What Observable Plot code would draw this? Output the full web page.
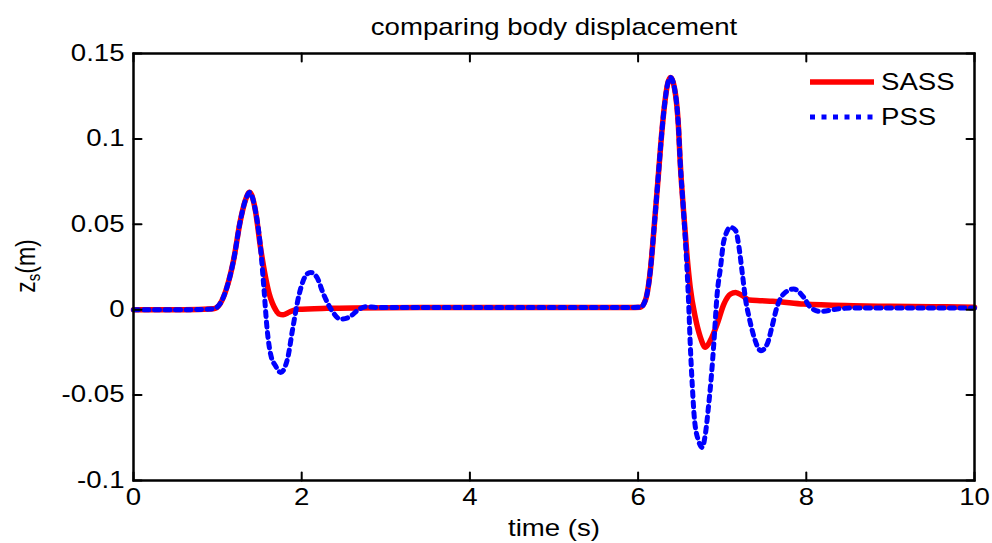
<!DOCTYPE html>
<html><head><meta charset="utf-8">
<script src="https://cdn.jsdelivr.net/npm/d3@7"></script>
<script src="https://cdn.jsdelivr.net/npm/@observablehq/plot@0.6"></script>
<style>
body{margin:0;background:#fff;}
#chart svg text{font-family:"Liberation Sans",Arial,sans-serif;}
</style></head><body><div id="chart"></div>
<script>
const title = "comparing body displacement";
const xLabel = "time (s)";
const yLabelMain = "z", yLabelSub = "s", yLabelUnit = "(m)";
const seriesNames = ["SASS", "PSS"];
const xTicks = [0, 2, 4, 6, 8, 10];
const yTicks = [-0.1, -0.05, 0, 0.05, 0.1, 0.15];
const yTickLabels = ["-0.1", "-0.05", "0", "0.05", "0.1", "0.15"];

const sassT = [0, 0.3, 0.6, 0.95, 1.03, 1.11, 1.19, 1.27, 1.33, 1.38, 1.45, 1.51, 1.57, 1.61, 1.65, 1.69, 1.73, 1.78, 1.85, 1.95, 2.3, 3, 4, 5, 5.9,
  6.03, 6.09, 6.15, 6.19, 6.23, 6.27, 6.31, 6.35, 6.385, 6.445, 6.48, 6.50, 6.54, 6.58, 6.62, 6.68, 6.74, 6.80, 6.86, 6.94, 7.02, 7.10, 7.16, 7.24, 7.32, 7.45, 7.6, 7.97, 8.56, 9.0, 9.5, 10];
const sassZ = [0, 0, 0, 0.0005, 0.0035, 0.013, 0.029, 0.052, 0.064, 0.0687, 0.058, 0.0365, 0.019, 0.010, 0.004, 0.0, -0.0025, -0.003, -0.0015, 0.0002, 0.0008, 0.0012, 0.0013, 0.0013, 0.0013,
  0.0015, 0.006, 0.025, 0.048, 0.072, 0.097, 0.118, 0.132, 0.136, 0.126, 0.107, 0.087, 0.058, 0.0326, 0.013, -0.0045, -0.016, -0.022, -0.018, -0.0084, 0.0033, 0.0092, 0.0101, 0.0082, 0.0057, 0.0053, 0.005, 0.0033, 0.0023, 0.002, 0.0018, 0.0015];

const pssT = [0, 0.3, 0.6, 0.95, 1.03, 1.11, 1.19, 1.27, 1.33, 1.38, 1.45, 1.51, 1.55, 1.59, 1.63, 1.69, 1.75, 1.835, 1.89, 1.97, 2.065, 2.105, 2.18, 2.26, 2.36, 2.46, 2.56, 2.66, 2.76, 2.9, 3.5, 4.5, 5.5, 5.9,
  6.03, 6.09, 6.15, 6.19, 6.23, 6.27, 6.31, 6.35, 6.385, 6.445, 6.48, 6.50, 6.54, 6.575, 6.60, 6.62, 6.645, 6.67, 6.72, 6.762, 6.80, 6.84, 6.87, 6.90, 6.94, 6.98, 7.02, 7.10, 7.16, 7.20, 7.24, 7.28, 7.32, 7.38, 7.46, 7.535, 7.59, 7.65, 7.73, 7.85, 7.97, 8.05, 8.17, 8.37, 8.56, 9, 9.5, 10];
const pssZ = [0, 0, 0, 0.0005, 0.0035, 0.013, 0.029, 0.052, 0.064, 0.0687, 0.058, 0.0365, 0.013, -0.012, -0.026, -0.033, -0.0367, -0.028, -0.012, 0.009, 0.021, 0.0218, 0.019, 0.009, -0.0006, -0.0055, -0.0045, -0.0006, 0.0018, 0.0013, 0.0013, 0.0013, 0.0013, 0.0013,
  0.0015, 0.006, 0.025, 0.048, 0.072, 0.097, 0.118, 0.132, 0.136, 0.126, 0.107, 0.087, 0.058, 0.03, 0.005, -0.02, -0.045, -0.064, -0.077, -0.0806, -0.0728, -0.0552, -0.0396, -0.0201, 0.0092, 0.0248, 0.0404, 0.0482, 0.0463, 0.0365, 0.0209, 0.0053, -0.0045, -0.0162, -0.024, -0.0201, -0.0104, 0.0013, 0.0092, 0.0121, 0.0072, 0.0013, -0.001, 0.0004, 0.001, 0.001, 0.001, 0.001];

const sass = sassT.map((t, i) => ({t, z: sassZ[i]}));
const pss = pssT.map((t, i) => ({t, z: pssZ[i]}));
const tickShape = {draw(ctx, l) { ctx.moveTo(0, 0); ctx.lineTo(0, -l); }};
const tickOpts = {length: 8, anchor: "start", shape: tickShape, stroke: "black", strokeWidth: 2};
const FS = 23, SX = 1.2;

const plot = Plot.plot({
  width: 992, height: 543,
  marginLeft: 133, marginRight: 18, marginTop: 53, marginBottom: 63,
  style: {fontFamily: "Liberation Sans, Arial, sans-serif", fontSize: FS + "px", color: "black", background: "white"},
  x: {domain: [0, 10]},
  y: {domain: [-0.1, 0.15]},
  marks: [
    Plot.line(sass, {x: "t", y: "z", stroke: "#ff0000", strokeWidth: 5.5, curve: "monotone-x"}),
    Plot.line(pss, {x: "t", y: "z", stroke: "#0000ff", strokeWidth: 5, strokeDasharray: "5,5.5", curve: "monotone-x"}),
    Plot.frame({stroke: "black", strokeWidth: 2.5}),
    Plot.vector(yTicks, {x: 0, y: d => d, rotate: 90, ...tickOpts}),
    Plot.vector(yTicks, {x: 10, y: d => d, rotate: -90, ...tickOpts}),
    Plot.vector(xTicks, {x: d => d, y: -0.1, rotate: 0, ...tickOpts}),
    Plot.vector(xTicks, {x: d => d, y: 0.15, rotate: 180, ...tickOpts}),
    Plot.axisX(xTicks, {tickSize: 0, tickPadding: 8, label: null, tickFormat: d => String(d), fontSize: FS}),
    Plot.axisY(yTicks, {tickSize: 0, tickPadding: 9, label: null, tickFormat: d => yTickLabels[yTicks.indexOf(d)], fontSize: FS}),
    Plot.text([title], {frameAnchor: "top", dy: -26, fontSize: FS, lineAnchor: "middle"}),
    Plot.text([xLabel], {frameAnchor: "bottom", dy: 48, fontSize: FS, lineAnchor: "middle"})
  ]
});

const svg = d3.select(plot);

const lg = svg.append("g");
const legendStyles = [{stroke: "#ff0000", dash: null, y: 82, w: 5.5}, {stroke: "#0000ff", dash: "5,6.5", y: 117, w: 5}];
seriesNames.forEach((name, i) => {
  const s = legendStyles[i];
  lg.append("line").attr("x1", 810).attr("x2", 874).attr("y1", s.y).attr("y2", s.y)
    .attr("stroke", s.stroke).attr("stroke-width", s.w).attr("stroke-dasharray", s.dash);
  lg.append("text").attr("transform", `translate(881,${s.y})`).attr("text-anchor", "start")
    .attr("dy", "0.35em").attr("font-size", FS).text(name);
});

// horizontal stretch of all texts around their anchor point
svg.selectAll("text").each(function () {
  const t = this.getAttribute("transform");
  if (t) this.setAttribute("transform", `${t} scale(${SX},1)`);
});

const yl = svg.append("text")
  .attr("transform", `translate(25,266) scale(${SX},1) rotate(-90)`)
  .attr("text-anchor", "middle")
  .attr("dominant-baseline", "central")
  .attr("font-size", FS);
yl.append("tspan").text(yLabelMain);
yl.append("tspan").attr("font-size", 15).attr("dy", 7).text(yLabelSub);
yl.append("tspan").attr("dy", -7).text(yLabelUnit);

document.getElementById("chart").appendChild(plot);
</script></body></html>
